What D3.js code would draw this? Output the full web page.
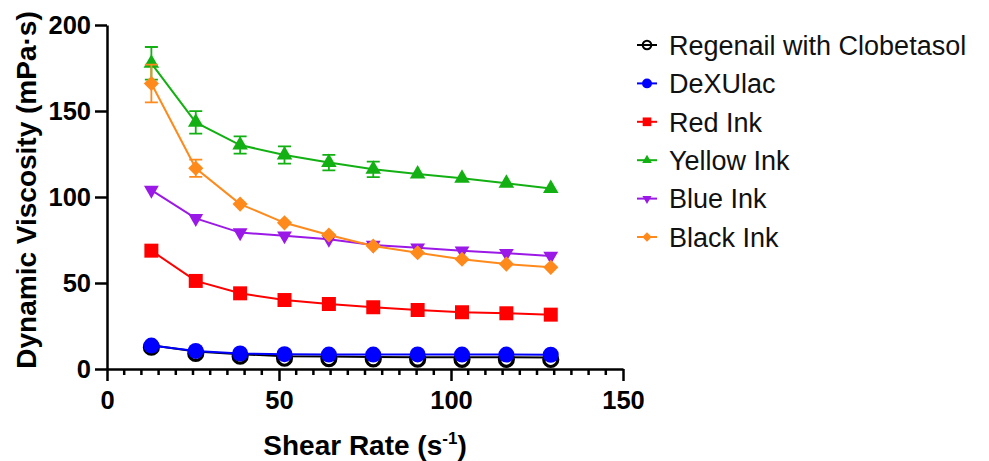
<!DOCTYPE html>
<html>
<head>
<meta charset="utf-8">
<script src="https://cdn.jsdelivr.net/npm/d3@7"></script>
<style>
  body { margin: 0; background: #fff; }
  svg { font-family: "Liberation Sans", Arial, sans-serif; }
  .axis path, .axis line { stroke: #000; stroke-width: 2.5; }
  .axis text { font-size: 25.5px; font-weight: bold; fill: #000; }
</style>
</head>
<body>
<div id="chart"></div>
<script>
var width = 989,
    height = 461;

// shear rate (1/s)
var shear = [12.9, 25.8, 38.7, 51.6, 64.5, 77.4, 90.3, 103.2, 116.1, 129];

var seriesNames = ["Regenail with Clobetasol", "DeXUlac", "Red Ink", "Yellow Ink", "Blue Ink", "Black Ink"];

var regenail = [13.8, 10.2, 8.6, 7.4, 7.2, 7.0, 6.9, 6.8, 6.8, 6.7];
var dexulac  = [13.6, 10.5, 9.0, 8.6, 8.4, 8.4, 8.5, 8.4, 8.4, 8.3];
var redInk   = [68.8, 51.2, 44.0, 40.1, 37.8, 35.9, 34.3, 33.0, 32.4, 31.6];
var yellowInk = [177.7, 143.4, 130.2, 124.4, 120.0, 116.1, 113.4, 110.9, 108.0, 105.0];
var blueInk  = [104.0, 87.6, 79.3, 77.5, 75.4, 72.1, 70.5, 68.8, 67.3, 65.7];
var blackInk = [166.0, 116.7, 95.9, 85.0, 77.9, 71.5, 67.6, 63.8, 61.0, 59.1];

// SD error (0 = hidden behind marker)
var yellowErr = [9.5, 6.5, 5, 5, 4.5, 4.5, 0, 0, 0, 0];
var blackErr  = [11, 5, 0, 0, 0, 0, 0, 0, 0, 0];

var xTicks = [0, 50, 100, 150];
var yTicks = [0, 50, 100, 150, 200];

var series = [
  { name: seriesNames[0], values: regenail, err: null, color: "#000", shape: "circleOpen" },
  { name: seriesNames[1], values: dexulac, err: null, color: "#0000ff", shape: "circle" },
  { name: seriesNames[2], values: redInk, err: null, color: "#ff0000", shape: "square" },
  { name: seriesNames[3], values: yellowInk, err: yellowErr, color: "#13b013", shape: "triangle" },
  { name: seriesNames[4], values: blueInk, err: null, color: "#9b19e6", shape: "triangleDown" },
  { name: seriesNames[5], values: blackInk, err: blackErr, color: "#ff8a1c", shape: "diamond" }
];

var x = d3.scaleLinear().domain([0, 150]).range([107, 623]);
var y = d3.scaleLinear().domain([0, 200]).range([369, 25]);

var svg = d3.select("#chart").append("svg")
    .attr("width", width)
    .attr("height", height);

// markers
function marker(sel, shape, color, scale) {
  scale = scale || 1;
  if (shape === "circle" || shape === "circleOpen") {
    sel.append("circle")
        .attr("r", (shape === "circle" ? 8 : 7) * scale)
        .attr("fill", shape === "circle" ? color : "none")
        .attr("stroke", shape === "circle" ? "none" : color)
        .attr("stroke-width", 3.2 * scale);
    return;
  }
  var sym, size, rot = 0;
  if (shape === "square") { sym = d3.symbolSquare; size = 196; }
  if (shape === "triangle") { sym = d3.symbolTriangle; size = 105; }
  if (shape === "triangleDown") { sym = d3.symbolTriangle; size = 95; rot = 180; }
  if (shape === "diamond") { sym = d3.symbolSquare; size = 115; rot = 45; }
  sel.append("path")
      .attr("d", d3.symbol().type(sym).size(size * scale * scale)())
      .attr("transform", "rotate(" + rot + ")")
      .attr("fill", color);
}

// x axis with minor ticks
var xMinor = d3.range(0, 151, 5).filter(function(d) { return d % 50 !== 0; });
svg.append("g")
    .attr("class", "axis")
    .attr("transform", "translate(0," + y(0) + ")")
    .selectAll("line")
    .data(xMinor)
  .enter().append("line")
    .attr("x1", function(d) { return x(d); })
    .attr("x2", function(d) { return x(d); })
    .attr("y1", 0)
    .attr("y2", 6);

svg.append("g")
    .attr("class", "axis")
    .attr("transform", "translate(0," + y(0) + ")")
    .call(d3.axisBottom(x).tickValues(xTicks).tickSize(12).tickSizeOuter(0).tickPadding(10));

svg.append("g")
    .attr("class", "axis")
    .attr("transform", "translate(" + x(0) + ",0)")
    .call(d3.axisLeft(y).tickValues(yTicks).tickSize(12).tickSizeOuter(0).tickPadding(4));

svg.selectAll(".axis text").attr("font-family", "Liberation Sans, Arial, sans-serif");

// axis titles
svg.append("text")
    .attr("transform", "translate(" + 36 + "," + 190 + ") rotate(-90)")
    .attr("text-anchor", "middle")
    .attr("font-size", 28)
    .attr("font-weight", "bold")
    .text("Dynamic Viscosity (mPa\u00b7s)");

var xt = svg.append("text")
    .attr("x", 365)
    .attr("y", 455)
    .attr("text-anchor", "middle")
    .attr("font-size", 28)
    .attr("font-weight", "bold");
xt.append("tspan").text("Shear Rate (s");
xt.append("tspan").attr("dy", -11).attr("font-size", 17).text("-1");
xt.append("tspan").attr("dy", 11).text(")");

var line = d3.line()
    .x(function(d, i) { return x(shear[i]); })
    .y(function(d) { return y(d); });

series.forEach(function(s) {
  var g = svg.append("g");

  if (s.err) {
    s.values.forEach(function(v, i) {
      if (!s.err[i]) return;
      var cx = x(shear[i]), top = y(v + s.err[i]), bot = y(v - s.err[i]);
      g.append("path")
          .attr("d", "M" + cx + "," + top + "V" + bot +
                "M" + (cx - 6.5) + "," + top + "H" + (cx + 6.5) +
                "M" + (cx - 6.5) + "," + bot + "H" + (cx + 6.5))
          .attr("stroke", s.color)
          .attr("stroke-width", 1.8)
          .attr("fill", "none");
    });
  }

  g.append("path")
      .datum(s.values)
      .attr("d", line)
      .attr("fill", "none")
      .attr("stroke", s.color)
      .attr("stroke-width", 2);

  g.selectAll(".pt")
      .data(s.values)
    .enter().append("g")
      .attr("class", "pt")
      .attr("transform", function(d, i) {
        var dy = s.shape === "circleOpen" ? 2 : 0;
        return "translate(" + x(shear[i]) + "," + (y(d) + dy) + ")"; })
      .each(function() { marker(d3.select(this), s.shape, s.color); });
});

// legend
var legend = svg.append("g");
series.forEach(function(s, i) {
  var row = legend.append("g")
      .attr("transform", "translate(647," + (45 + i * 38.4) + ")");
  row.append("line")
      .attr("x1", -10).attr("x2", 10)
      .attr("stroke", s.color)
      .attr("stroke-width", 2);
  marker(row, s.shape, s.color, 0.62);
  row.append("text")
      .attr("x", 22)
      .attr("dy", "0.36em")
      .attr("font-size", 27)
      .attr("fill", "#111")
      .text(s.name);
});
</script>
</body>
</html>
